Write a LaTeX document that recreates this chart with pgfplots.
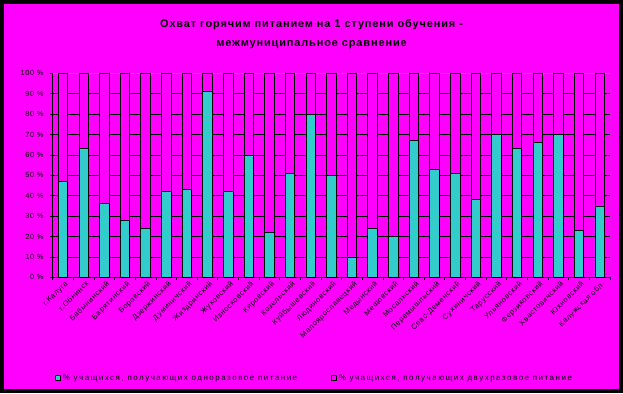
\documentclass[border=0pt]{standalone}
\usepackage{pgfplots}
\pgfplotsset{compat=1.18}
\usepackage{fontspec}
\setmainfont{Liberation Sans}
\newfontfamily\legfont[LetterSpace=19]{Liberation Sans}
\newfontfamily\titfont[LetterSpace=8]{Liberation Sans}
\newfontfamily\tickfont[LetterSpace=8]{Liberation Sans}
\definecolor{mag}{RGB}{255,0,255}
\definecolor{teal1}{RGB}{51,204,204}
\pgfplotstableread{
x one two
0 47 53
1 63 37
2 36 64
3 28 72
4 24 76
5 42 58
6 43 57
7 91 9
8 42 58
9 60 40
10 22 78
11 51 49
12 80 20
13 50 50
14 10 90
15 24 76
16 20 80
17 67 33
18 53 47
19 51 49
20 38 62
21 70 30
22 63 37
23 66 34
24 70 30
25 23 77
26 35 65
}\datatable
\begin{document}
\begin{tikzpicture}[x=1bp,y=1bp]
\fill[black] (0,0) rectangle (623,393);
\fill[mag] (4,4) rectangle (619,389);
\begin{axis}[
  at={(52.7bp,115.7bp)}, anchor=south west,
  scale only axis, width=557.3bp, height=204bp,
  xmin=-0.5, xmax=26.5, ymin=0, ymax=100,
  ybar stacked, bar width=9.5bp,
  axis x line*=bottom, axis y line*=left,
  axis line style={black, line width=0.8bp},
  ytick={0,10,...,100},
  yticklabels={0 \%,10 \%,20 \%,30 \%,40 \%,50 \%,60 \%,70 \%,80 \%,90 \%,100 \%},
  ymajorgrids, grid style={black, line width=0.8bp},
  xtick={0,...,26},
  xticklabels={г.Калуга,г.Обнинск,Бабынинский,Барятинский,Боровский,Дзержинский,Думиничский,Жиздринский,Жуковский,Износковский,Кировский,Козельский,Куйбышевский,Людиновский,Малоярославецкий,Медынский,Мещовский,Мосальский,Перемышльский,Спас-Деменский,Сухиничский,Тарусский,Ульяновский,Ферзиковский,Хвастовичский,Юхновский,Калужская обл.},
  minor xtick={-0.5,0.5,...,26.5},
  tick align=outside, major tick length=3bp, minor tick length=3bp,
  major x tick style={draw=none},
  tick style={black, line width=0.8bp},
  xticklabel style={rotate=45, anchor=north east, font=\tickfont\fontsize{7.5}{8}\selectfont, inner sep=1bp, xshift=2bp},
  yticklabel style={font=\tickfont\fontsize{7.5}{8}\selectfont, inner sep=2bp, xshift=-4bp},
  title={Охват горячим питанием на 1 ступени обучения -\\межмуниципальное сравнение},
  title style={at={(0.4644,1.161)}, anchor=center, align=center, font=\titfont\bfseries\fontsize{11}{19}\selectfont},
  legend columns=2,
  legend style={at={(0.47,-0.494)}, anchor=center, draw=none, fill=none, font=\legfont\fontsize{8}{9}\selectfont, /tikz/every even column/.append style={column sep=32bp}},
  legend image code/.code={\draw[#1, line width=0.6bp] (0bp,-2.5bp) rectangle (5bp,2.5bp);},
]
\addplot[fill=teal1, draw=black, line width=0.8bp] table[x=x,y=one]{\datatable};
\addplot[fill=mag, draw=black, line width=0.8bp] table[x=x,y=two]{\datatable};
\draw[gray, line width=0.8bp] (rel axis cs:0,1) -- (rel axis cs:1,1) -- (rel axis cs:1,0);
\legend{{\% учащихся, получающих  одноразовое питание}, {\% учащихся, получающих  двухразовое питание}}
\end{axis}
\end{tikzpicture}
\end{document}
